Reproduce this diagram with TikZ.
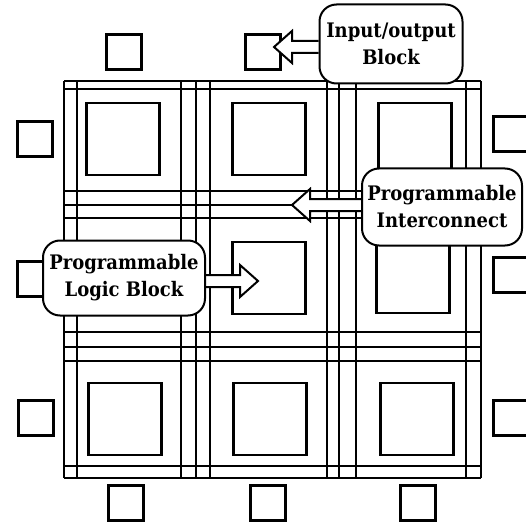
\documentclass[tikz,border=0pt]{standalone}
\usepackage{fontspec}
\setmainfont{DejaVu Serif}
\newfontfamily\calloutfont[FakeStretch=0.9]{DejaVu Serif}
\usetikzlibrary{calc}

\pgfdeclarelayer{fg}
\pgfsetlayers{main,fg}

% hollow block arrow from the edge of a callout (#1) to a tip (#2)
\newcommand{\hollowarrow}[2]{%
  \coordinate (hb) at ($(#2)!18pt!(#2 -| #1)$);
  \draw[fatarrow] let \p1=(#1), \p2=(#2), \p3=(hb) in
    (\x1,\y2+6pt) -- (\x3,\y2+6pt) -- (\x3,\y2+16pt) -- (\p2)
    -- (\x3,\y2-16pt) -- (\x3,\y2-6pt) -- (\x1,\y2-6pt);
}

\begin{document}
\begin{tikzpicture}[x=1pt,y=-1pt,
  clb/.style = {draw, line width=2.3pt, minimum width=73pt, minimum height=72pt, inner sep=0pt},
  iob/.style = {draw, line width=2.3pt, minimum size=35pt, inner sep=0pt},
  wire/.style = {line width=2pt},
  callout/.style = {draw, fill=white, line width=2pt, rounded corners=17pt, align=center,
                    inner sep=2pt, font=\calloutfont\bfseries\fontsize{20}{27}\selectfont},
  fatarrow/.style = {draw, fill=white, line width=2pt}]

\useasboundingbox (0,0) rectangle (526,521);

% routing channels
\foreach \x in {64,77,181,196,210,327,339,356,466,481}
  \draw[wire] (\x,81) -- (\x,478);
\foreach \y in {81,89,191,205,218,332,347,361,466,478}
  \draw[wire] (64,\y) -- (481,\y);

% logic blocks
\node[clb] (clb11) at (123,139) {};
\node[clb] (clb12) at (269,139) {};
\node[clb] (clb13) at (415,139) {};
\node[clb] (clb21) at (123,278) {};
\node[clb] (clb22) at (269,278) {};
\node[clb] (clb23) at (413,277) {};
\node[clb] (clb31) at (125,419) {};
\node[clb] (clb32) at (270,419) {};
\node[clb] (clb33) at (417,419) {};

% i/o blocks
\node[iob] (iot1) at (124,52) {};
\node[iob] (iot2) at (263,52) {};
\node[iob] (iol1) at (35,139) {};
\node[iob] (iol2) at (35,279) {};
\node[iob] (iol3) at (36,418) {};
\node[iob] (ior1) at (511,134) {};
\node[iob] (ior2) at (511,275) {};
\node[iob] (ior3) at (511,418) {};
\node[iob] (iob1) at (126,503) {};
\node[iob] (iob2) at (268,503) {};
\node[iob] (iob3) at (418,503) {};

% callouts
\begin{pgfonlayer}{fg}
\node[callout, minimum width=143pt, minimum height=79pt] (iolbl) at (391,44) {Input/output\\Block};
\node[callout, minimum width=160pt, minimum height=77pt] (iclbl) at (442,207) {Programmable\\Interconnect};
\node[callout, minimum width=162pt, minimum height=75pt] (lblbl) at (124,278) {Programmable\\Logic Block};
\end{pgfonlayer}

\coordinate (ioTip) at (274,47);
\coordinate (icTip) at (292,205);
\coordinate (lbTip) at (258,281);

\hollowarrow{iolbl.west}{ioTip}
\hollowarrow{iclbl.west}{icTip}
\hollowarrow{lblbl.east}{lbTip}

\end{tikzpicture}
\end{document}
